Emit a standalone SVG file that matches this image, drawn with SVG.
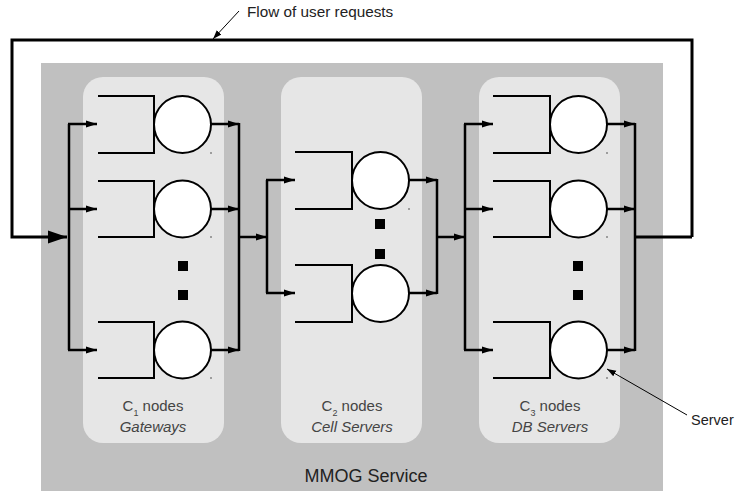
<svg xmlns="http://www.w3.org/2000/svg" width="735" height="491" viewBox="0 0 735 491">
<style>
.q{fill:none;stroke:#000;stroke-width:2}
.c{fill:#fff;stroke:#000;stroke-width:2}
.w{fill:none;stroke:#000;stroke-width:2.5}
.a{fill:none;stroke:#000;stroke-width:2.5;marker-end:url(#ah)}
.loop{fill:none;stroke:#000;stroke-width:3}
.dot{fill:#000}
.spk{fill:#555}
.t{font-family:"Liberation Sans",Arial,sans-serif;fill:#444;text-anchor:middle}
.lbl{font-family:"Liberation Sans",Arial,sans-serif;fill:#222}
.panel{fill:#e6e6e6}
</style>
<defs>
<marker id="ah" markerUnits="userSpaceOnUse" markerWidth="12" markerHeight="8" refX="11" refY="4" orient="auto">
<path d="M0,0.5 L11,4 L0,7.5 z" fill="#000"/>
</marker>
<marker id="big" markerUnits="userSpaceOnUse" markerWidth="20" markerHeight="14" refX="19" refY="7" orient="auto">
<path d="M0,0.5 L19,7 L0,13.5 z" fill="#000"/>
</marker>
<marker id="thin" markerUnits="userSpaceOnUse" markerWidth="10" markerHeight="8" refX="9" refY="4" orient="auto">
<path d="M0,0.8 L9,4 L0,7.2 z" fill="#000"/>
</marker>
</defs>

<rect id="service" x="41" y="63" width="622" height="430" fill="#c0c0c0"/>
<text class="lbl" x="366" y="482" font-size="18" text-anchor="middle" fill="#333">MMOG Service</text>

<g id="panel1">
<rect class="panel" x="83" y="77" width="141" height="366" rx="20"/>
<text class="t" x="153" y="411" font-size="15">C<tspan font-size="9" dy="5">1</tspan><tspan dy="-5"> nodes</tspan></text>
<text class="t" x="153" y="432" font-size="15" font-style="italic">Gateways</text>
</g>
<g id="panel2">
<rect class="panel" x="281" y="77" width="141" height="366" rx="20"/>
<text class="t" x="352" y="411" font-size="15">C<tspan font-size="9" dy="5">2</tspan><tspan dy="-5"> nodes</tspan></text>
<text class="t" x="352" y="432" font-size="15" font-style="italic">Cell Servers</text>
</g>
<g id="panel3">
<rect class="panel" x="479" y="77" width="141" height="366" rx="20"/>
<text class="t" x="550" y="411" font-size="15">C<tspan font-size="9" dy="5">3</tspan><tspan dy="-5"> nodes</tspan></text>
<text class="t" x="550" y="432" font-size="15" font-style="italic">DB Servers</text>
</g>

<g id="connectors">
<path class="loop" d="M692,237 L692,40 L12,40 L12,237 L67,237" marker-end="url(#big)"/>
<path class="loop" d="M635,237 L692,237"/>
<path class="w" d="M69,124 L69,350"/>
<path class="a" d="M68,124 L97,124"/>
<path class="a" d="M68,209 L97,209"/>
<path class="a" d="M68,350 L97,350"/>
<path class="a" d="M211,124 L239,124"/>
<path class="a" d="M211,209 L239,209"/>
<path class="a" d="M211,350 L239,350"/>
<path class="w" d="M239,123 L239,351"/>
<path class="a" d="M239,237 L267,237"/>
<path class="w" d="M267,180 L267,293"/>
<path class="a" d="M266,180 L295,180"/>
<path class="a" d="M266,293 L295,293"/>
<path class="a" d="M409,180 L437,180"/>
<path class="a" d="M409,293 L437,293"/>
<path class="w" d="M437,179 L437,294"/>
<path class="a" d="M437,237 L465,237"/>
<path class="w" d="M465,124 L465,350"/>
<path class="a" d="M464,124 L493,124"/>
<path class="a" d="M464,209 L493,209"/>
<path class="a" d="M464,350 L493,350"/>
<path class="a" d="M607,124 L635,124"/>
<path class="a" d="M607,209 L635,209"/>
<path class="a" d="M607,350 L635,350"/>
<path class="w" d="M635,123 L635,351"/>
<path d="M239,11 L213,39" stroke="#000" stroke-width="1" fill="none" marker-end="url(#thin)"/>
<path d="M687,415 L607,369" stroke="#000" stroke-width="1" fill="none" marker-end="url(#thin)"/>
</g>

<text class="lbl" x="247" y="17" font-size="15.3">Flow of user requests</text>
<text class="lbl" x="691" y="425" font-size="14.5">Server</text>

<g id="g1a"><path class="q" d="M98,96 L154,96 L154,153 L98,153"/><circle class="c" cx="182.5" cy="124.5" r="28.5"/><rect class="spk" x="210.5" y="152" width="1" height="2"/></g>
<g id="g1b"><path class="q" d="M98,181 L154,181 L154,237 L98,237"/><circle class="c" cx="182.5" cy="209" r="28.5"/><rect class="spk" x="210.5" y="236" width="1" height="2"/></g>
<g id="g1c"><path class="q" d="M98,322 L154,322 L154,378 L98,378"/><circle class="c" cx="182.5" cy="350" r="28.5"/><rect class="spk" x="210.5" y="377" width="1" height="2"/></g>
<g id="dots1"><rect class="dot" x="178" y="261" width="10" height="10"/><rect class="dot" x="178" y="290" width="10" height="10"/></g>

<g id="g2a"><path class="q" d="M295,152 L352,152 L352,209 L295,209"/><circle class="c" cx="380.5" cy="180.5" r="28.5"/><rect class="spk" x="408.5" y="208" width="1" height="2"/></g>
<g id="g2b"><path class="q" d="M295,265 L352,265 L352,322 L295,322"/><circle class="c" cx="380.5" cy="293.5" r="28.5"/></g>
<g id="dots2"><rect class="dot" x="375" y="219" width="10" height="10"/><rect class="dot" x="375" y="249" width="10" height="10"/></g>

<g id="g3a"><path class="q" d="M493,96 L550,96 L550,153 L493,153"/><circle class="c" cx="578.5" cy="124.5" r="28.5"/><rect class="spk" x="606.5" y="152" width="1" height="2"/></g>
<g id="g3b"><path class="q" d="M493,181 L550,181 L550,237 L493,237"/><circle class="c" cx="578.5" cy="209" r="28.5"/><rect class="spk" x="606.5" y="236" width="1" height="2"/></g>
<g id="g3c"><path class="q" d="M493,322 L550,322 L550,378 L493,378"/><circle class="c" cx="578.5" cy="350" r="28.5"/><rect class="spk" x="606.5" y="377" width="1" height="2"/></g>
<g id="dots3"><rect class="dot" x="573" y="261" width="10" height="10"/><rect class="dot" x="573" y="290" width="10" height="10"/></g>
</svg>
